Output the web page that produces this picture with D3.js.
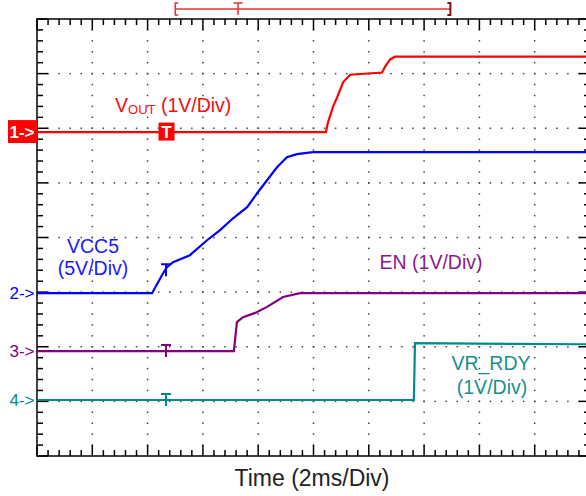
<!DOCTYPE html>
<html lang="en">
<head>
    <meta charset="UTF-8">
    <title>Power-up sequence</title>
    <style>
        body { margin: 0; background: #fff; }
        svg text { font-family: 'Liberation Sans', Arial, sans-serif; }
    </style>
    <script src="https://d3js.org/d3.v7.min.js"></script>
</head>
<body>
    <svg width="586" height="496"></svg>
    <script>
        // time in ms (2 ms/div), values in volts
        const vout = [[0, 0], [10.45, 0], [10.52, 0.17], [10.71, 0.47], [10.85, 0.63], [11.07, 0.91], [11.32, 1.05],
            [12.48, 1.09], [12.59, 1.2], [12.77, 1.33], [12.95, 1.38], [20, 1.38]];
        const vcc5 = [[0, 0], [4.16, 0], [4.56, 1.83], [4.7, 2.38], [4.92, 2.84], [5.53, 3.48], [6.15, 4.85], [6.62, 5.77],
            [7.09, 6.86], [7.6, 7.87], [7.96, 9.15], [8.32, 10.34], [8.68, 11.53], [9.04, 12.45], [9.4, 12.73], [9.98, 12.91], [20, 12.91]];
        const en = [[0, 0], [7.12, 0], [7.2, 0.38], [7.23, 0.53], [7.45, 0.62], [7.89, 0.7], [8.32, 0.81], [8.9, 0.99], [9.51, 1.06], [20, 1.06]];
        const vrRdy = [[0, 0], [13.63, 0], [13.67, 1.04], [20, 1.02]];

        const channels = [
            { id: "1", data: vout, color: "#ff0000", offset: 5.93, vDiv: 1 },
            { id: "2", data: vcc5, color: "#0000ff", offset: 2.98, vDiv: 5 },
            { id: "3", data: en, color: "#800080", offset: 1.92, vDiv: 1 },
            { id: "4", data: vrRdy, color: "#008b8b", offset: 1.025, vDiv: 1 }
        ];

        const triggerTime = 4.63;
        const viewWindow = [5.0, 14.95];
        const viewTrigger = 7.27;

        const svg = d3.select("svg");
        const x = d3.scaleLinear().domain([0, 20]).range([37, 590]);
        const y = d3.scaleLinear().domain([0, 8]).range([456, 19]);

        // dotted grid
        const grid = svg.append("g").attr("fill", "#444");
        const minorX = d3.range(0, 20.001, 0.4);
        const minorY = d3.range(0, 8.001, 0.2);
        d3.range(1, 10).forEach(i => {
            minorY.slice(1, -1).forEach(v => {
                grid.append("rect").attr("x", x(i * 2) - 0.75).attr("y", y(v) - 0.75).attr("width", 1.5).attr("height", 1.5);
            });
        });
        d3.range(1, 8).forEach(j => {
            minorX.slice(1, -1).forEach(t => {
                grid.append("rect").attr("x", x(t) - 0.75).attr("y", y(j) - 0.75).attr("width", 1.5).attr("height", 1.5);
            });
        });

        // border with ticks
        const frame = svg.append("g").attr("stroke", "#000").attr("stroke-width", 1.5);
        frame.append("rect").attr("x", x(0)).attr("y", y(8)).attr("width", x(20) - x(0)).attr("height", y(0) - y(8)).attr("fill", "none");
        minorX.forEach((t, i) => {
            const len = i % 5 === 0 ? 11 : 6;
            frame.append("line").attr("x1", x(t)).attr("x2", x(t)).attr("y1", y(8)).attr("y2", y(8) + len);
            frame.append("line").attr("x1", x(t)).attr("x2", x(t)).attr("y1", y(0)).attr("y2", y(0) - len);
        });
        minorY.forEach((v, i) => {
            const len = i % 5 === 0 ? 11 : 6;
            frame.append("line").attr("x1", x(0)).attr("x2", x(0) + len).attr("y1", y(v)).attr("y2", y(v));
            frame.append("line").attr("x1", x(20)).attr("x2", x(20) - len).attr("y1", y(v)).attr("y2", y(v));
        });

        // traces
        channels.forEach(ch => {
            const yv = v => y(ch.offset + v / ch.vDiv);
            const line = d3.line().x(d => x(d[0])).y(d => yv(d[1]));
            svg.append("path").datum(ch.data)
                .attr("d", line)
                .attr("fill", "none")
                .attr("stroke", ch.color)
                .attr("stroke-width", 2.2);

            // trigger marker on trace
            const tv = d3.scaleLinear().domain(ch.data.map(d => d[0])).range(ch.data.map(d => d[1]))(triggerTime);
            const ty = yv(tv);
            const tx = x(triggerTime) + 1;
            if (ch.id === "1") {
                svg.append("rect").attr("x", tx - 7.5).attr("y", ty - 9.5).attr("width", 16).attr("height", 18).attr("fill", ch.color);
                svg.append("text").attr("x", tx + 0.5).attr("y", ty + 6).attr("text-anchor", "middle")
                    .attr("fill", "#fff").style("font-size", "17px").style("font-weight", "700").text("T");
            } else {
                svg.append("path")
                    .attr("d", `M${tx - 5},${ty - 6}H${tx + 5}M${tx},${ty - 6}V${ty + 6}`)
                    .attr("stroke", ch.color).attr("stroke-width", 2).attr("fill", "none");
            }

            // ground marker
            const gy = y(ch.offset);
            if (ch.id === "1") {
                svg.append("rect").attr("x", 8).attr("y", gy - 12).attr("width", 29).attr("height", 23).attr("fill", ch.color);
                svg.append("text").attr("x", 22).attr("y", gy + 6).attr("text-anchor", "middle")
                    .attr("fill", "#fff").style("font-size", "17px").style("font-weight", "700").text("1->");
            } else {
                svg.append("text").attr("x", 22).attr("y", gy + 6).attr("text-anchor", "middle")
                    .attr("fill", ch.color).style("font-size", "17px").text(ch.id + "->");
            }
        });

        // record view bar
        const bar = svg.append("g").attr("fill", "none");
        bar.append("line").attr("x1", x(viewWindow[0])).attr("x2", x(viewWindow[1])).attr("y1", 9).attr("y2", 9)
            .attr("stroke", "#e83030").attr("stroke-width", 1.5);
        bar.append("path").attr("d", `M${x(viewWindow[0]) + 3},3H${x(viewWindow[0])}V15H${x(viewWindow[0]) + 3}`)
            .attr("stroke", "#e83030").attr("stroke-width", 1.5);
        bar.append("path").attr("d", `M${x(viewWindow[1]) - 3},3H${x(viewWindow[1])}V15H${x(viewWindow[1]) - 3}`)
            .attr("stroke", "#8b1010").attr("stroke-width", 2);
        bar.append("path").attr("d", `M${x(viewTrigger) - 4.5},3H${x(viewTrigger) + 4.5}M${x(viewTrigger)},3V15`)
            .attr("stroke", "#e83030").attr("stroke-width", 1.5);

        // labels
        const vlabel = svg.append("text").attr("x", 115).attr("y", 112).attr("fill", "#f01010").style("font-size", "19.5px");
        vlabel.append("tspan").text("V");
        vlabel.append("tspan").attr("dy", 2).style("font-size", "13px").text("OUT");
        vlabel.append("tspan").attr("dy", -2).text(" (1V/Div)");

        const labels = [
            { text: "VCC5", x: 93, y: 253, color: "#1a1aff" },
            { text: "(5V/Div)", x: 93, y: 275, color: "#1a1aff" },
            { text: "EN (1V/Div)", x: 431, y: 269, color: "#8b1a8b" },
            { text: "VR_RDY", x: 491, y: 370, color: "#17908b" },
            { text: "(1V/Div)", x: 492, y: 394, color: "#17908b" }
        ];
        svg.selectAll("text.lbl").data(labels).enter().append("text")
            .attr("class", "lbl")
            .attr("x", d => d.x).attr("y", d => d.y)
            .attr("text-anchor", "middle")
            .attr("fill", d => d.color)
            .style("font-size", "19.5px")
            .text(d => d.text);

        svg.append("text").attr("x", 312).attr("y", 486).attr("text-anchor", "middle")
            .attr("fill", "#222").style("font-size", "23px").text("Time (2ms/Div)");
    </script>
</body>
</html>
